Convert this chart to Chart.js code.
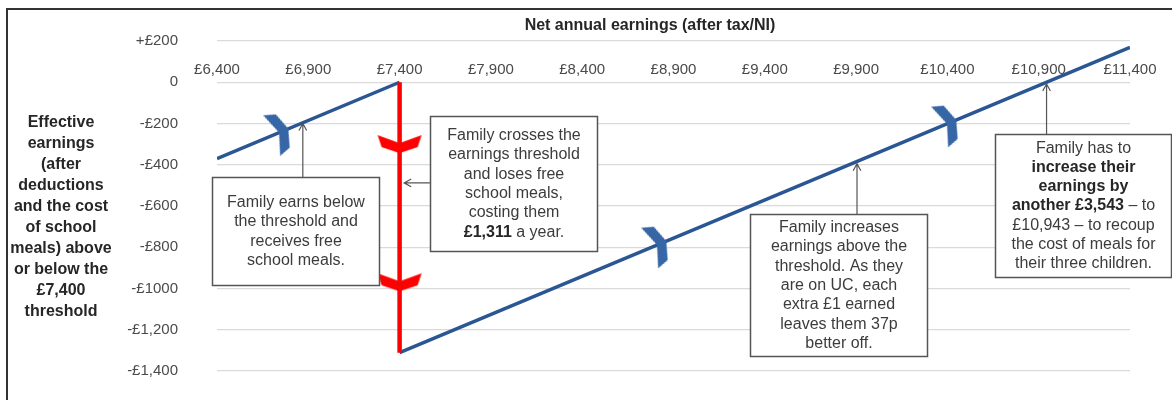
<!DOCTYPE html>
<html>
<head>
<meta charset="utf-8">
<script src="https://cdn.jsdelivr.net/npm/chart.js@4.4.1/dist/chart.umd.min.js"></script>
<style>
  html, body { margin: 0; padding: 0; background: #ffffff; }
  #wrap { position: relative; width: 1172px; height: 400px; }
</style>
</head>
<body>
<div id="wrap"><canvas id="chart" width="1172" height="400"></canvas></div>
<script>
// Net earnings vs effective earnings around the £7,400 free school meals threshold
const xTickLabels = ['£6,400', '£6,900', '£7,400', '£7,900', '£8,400', '£8,900', '£9,400', '£9,900', '£10,400', '£10,900', '£11,400'];
const yTickLabels = ['-£1,400', '-£1,200', '-£1000', '-£800', '-£600', '-£400', '-£200', '0', '+£200'];

// below threshold (receives free school meals)
const belowX = [6400, 7400];
const belowY = [-370, 0];
// the drop when meals are lost
const dropX = [7400, 7400];
const dropY = [0, -1311];
// above threshold, 37p per extra £1
const aboveX = [7400, 11400];
const aboveY = [-1311, 169];

// arrow markers along the lines
const blueMarkX = [6745, 8815, 10403];
const blueMarkY = [-242, -787, -200];
const redMarkX = [7400, 7400];
const redMarkY = [-300, -970];

const yTitleLines = ['Effective', 'earnings', '(after', 'deductions', 'and the cost', 'of school', 'meals) above', 'or below the', '£7,400', 'threshold'];
const xTitle = 'Net annual earnings (after tax/NI)';

const colors = {
  blue: '#2b5694',
  blueMark: '#3766a6',
  red: '#ff0000',
  grid: '#dadada',
  tick: '#4a4a4a',
  text: '#3c3c3c',
  title: '#262626',
  boxLine: '#555555',
  frame: '#333333'
};
const FONT = '"Liberation Sans", Arial, sans-serif';

// annotation boxes: rectangle in data units [x1, x2, yTop, yBottom], arrow [tailX, tailY, tipX, tipY]
const notes = [
  {
    box: [6373, 7287, -459, -983],
    lines: [['Family earns below'], ['the threshold and'], ['receives free'], ['school meals.']],
    arrow: [6870, -459, 6870, -200]
  },
  {
    box: [7566, 8481, -164, -818],
    lines: [['Family crosses the'], ['earnings threshold'], ['and loses free'], ['school meals,'], ['costing them'], [['£1,311', true], [' a year.', false]]],
    arrow: [7566, -488, 7425, -488]
  },
  {
    box: [9319, 10288, -639, -1327],
    lines: [['Family increases'], ['earnings above the'], ['threshold. As they'], ['are on UC, each'], ['extra £1 earned'], ['leaves them 37p'], ['better off.']],
    arrow: [9905, -639, 9905, -395]
  },
  {
    box: [10661, 11625, -251, -944],
    lines: [['Family has to'], [['increase their', true]], [['earnings by', true]], [['another £3,543', true], [' – to', false]], ['£10,943 – to recoup'], ['the cost of meals for'], ['their three children.']],
    arrow: [10943, -251, 10943, -8]
  }
];

function toPoints(xs, ys) {
  return xs.map((x, i) => ({ x: x, y: ys[i] }));
}

// chevron arrow head, drawn pointing down; rotated per point
function makeChevron(color) {
  const c = document.createElement('canvas');
  c.width = 46;
  c.height = 22;
  const g = c.getContext('2d');
  g.fillStyle = color;
  g.beginPath();
  g.moveTo(1, 2);
  g.lineTo(23, 10);
  g.lineTo(45, 2);
  g.lineTo(41, 14);
  g.lineTo(23, 20);
  g.lineTo(5, 14);
  g.closePath();
  g.fill();
  return c;
}

const lineAngle = -22.7; // on-screen slope of the blue line

const decorPlugin = {
  id: 'decor',
  beforeDraw(chart) {
    const ctx = chart.ctx;
    ctx.save();
    ctx.fillStyle = '#ffffff';
    ctx.fillRect(0, 0, chart.width, chart.height);
    ctx.strokeStyle = colors.frame;
    ctx.lineWidth = 2;
    ctx.beginPath();
    ctx.moveTo(7, 400);
    ctx.lineTo(7, 9);
    ctx.lineTo(1172, 9);
    ctx.stroke();

    // axis titles
    ctx.fillStyle = colors.title;
    ctx.font = 'bold 16px ' + FONT;
    ctx.textAlign = 'center';
    ctx.textBaseline = 'middle';
    ctx.fillText(xTitle, 650, 26);
    yTitleLines.forEach((t, i) => ctx.fillText(t, 61, 123 + i * 20.9));
    ctx.restore();
  },
  afterDatasetsDraw(chart) {
    const ctx = chart.ctx;
    const xs = chart.scales.x;
    const ys = chart.scales.y;
    const lineH = 19.3;
    ctx.save();
    notes.forEach(n => {
      const x1 = Math.round(xs.getPixelForValue(n.box[0])) + 0.5;
      const x2 = Math.round(xs.getPixelForValue(n.box[1])) + 0.5;
      const y1 = Math.round(ys.getPixelForValue(n.box[2])) + 0.5;
      const y2 = Math.round(ys.getPixelForValue(n.box[3])) + 0.5;

      // arrow
      const tx = xs.getPixelForValue(n.arrow[0]);
      const ty = ys.getPixelForValue(n.arrow[1]);
      const hx = xs.getPixelForValue(n.arrow[2]);
      const hy = ys.getPixelForValue(n.arrow[3]);
      ctx.strokeStyle = colors.boxLine;
      ctx.lineWidth = 1.2;
      ctx.beginPath();
      ctx.moveTo(tx, ty);
      ctx.lineTo(hx, hy);
      const a = Math.atan2(hy - ty, hx - tx);
      const len = 8, spread = 0.5;
      ctx.moveTo(hx - len * Math.cos(a - spread), hy - len * Math.sin(a - spread));
      ctx.lineTo(hx, hy);
      ctx.lineTo(hx - len * Math.cos(a + spread), hy - len * Math.sin(a + spread));
      ctx.stroke();

      // box
      ctx.fillStyle = '#ffffff';
      ctx.fillRect(x1, y1, x2 - x1, y2 - y1);
      ctx.lineWidth = 1.5;
      ctx.strokeRect(x1, y1, x2 - x1, y2 - y1);

      // text
      const cx = (x1 + x2) / 2;
      const cy = (y1 + y2) / 2;
      let y = cy - (n.lines.length * lineH) / 2 + lineH / 2;
      ctx.fillStyle = colors.text;
      ctx.textBaseline = 'middle';
      ctx.textAlign = 'left';
      n.lines.forEach(line => {
        const segs = typeof line[0] === 'string' ? [[line[0], false]] : line;
        let total = 0;
        segs.forEach(s => {
          ctx.font = (s[1] ? 'bold ' : '') + '16px ' + FONT;
          total += ctx.measureText(s[0]).width;
        });
        let x = cx - total / 2;
        segs.forEach(s => {
          ctx.font = (s[1] ? 'bold ' : '') + '16px ' + FONT;
          ctx.fillStyle = s[1] ? colors.title : colors.text;
          ctx.fillText(s[0], x, y);
          x += ctx.measureText(s[0]).width;
        });
        y += lineH;
      });
    });
    ctx.restore();
  }
};

const blueChevron = makeChevron(colors.blueMark);
const redChevron = makeChevron(colors.red);

new Chart(document.getElementById('chart'), {
  type: 'scatter',
  data: {
    datasets: [
      {
        label: 'Markers (blue)',
        data: toPoints(blueMarkX, blueMarkY),
        pointStyle: blueChevron,
        pointRotation: lineAngle - 90,
        showLine: false,
        order: 0
      },
      {
        label: 'Markers (red)',
        data: toPoints(redMarkX, redMarkY),
        pointStyle: redChevron,
        pointRotation: 0,
        showLine: false,
        order: 0
      },
      {
        label: 'Meals lost',
        data: toPoints(dropX, dropY),
        showLine: true,
        borderColor: colors.red,
        borderWidth: 4.5,
        pointRadius: 0,
        order: 1
      },
      {
        label: 'Below threshold',
        data: toPoints(belowX, belowY),
        showLine: true,
        borderColor: colors.blue,
        borderWidth: 3.5,
        pointRadius: 0,
        order: 2
      },
      {
        label: 'Above threshold',
        data: toPoints(aboveX, aboveY),
        showLine: true,
        borderColor: colors.blue,
        borderWidth: 3.5,
        pointRadius: 0,
        order: 2
      }
    ]
  },
  options: {
    responsive: false,
    animation: false,
    events: [],
    layout: { padding: { top: 41, right: 42, bottom: 29, left: 0 } },
    plugins: {
      legend: { display: false },
      tooltip: { enabled: false }
    },
    scales: {
      x: {
        type: 'linear',
        position: { y: 0 },
        min: 6400,
        max: 11400,
        afterFit: (scale) => { scale.height = 0; },
        grid: { display: false, drawTicks: false },
        border: { display: false },
        ticks: {
          stepSize: 500,
          autoSkip: false,
          maxRotation: 0,
          padding: -21.5,
          color: colors.tick,
          font: { family: FONT, size: 15 },
          callback: (v, i) => xTickLabels[i]
        }
      },
      y: {
        type: 'linear',
        min: -1400,
        max: 200,
        afterFit: (scale) => {
          // fixed axis width; the big label gap must not eat into the plot height
          scale.width = 217;
          scale.paddingTop = 9;
          scale.paddingBottom = 9;
        },
        grid: { color: colors.grid, lineWidth: 1.2, drawTicks: false },
        border: { display: false },
        ticks: {
          stepSize: 200,
          padding: 39,
          color: colors.tick,
          font: { family: FONT, size: 15 },
          callback: (v, i) => yTickLabels[i]
        }
      }
    }
  },
  plugins: [decorPlugin]
});
</script>
</body>
</html>
